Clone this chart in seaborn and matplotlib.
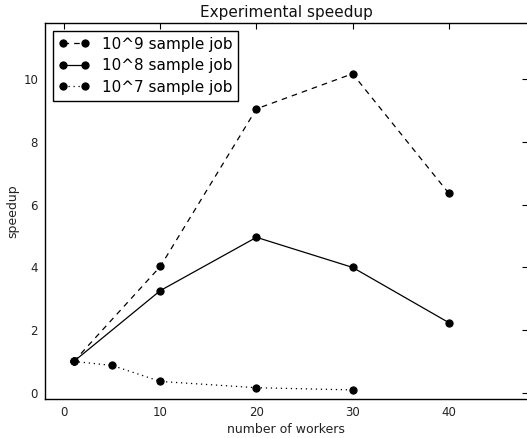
import matplotlib
matplotlib.use("Agg")
import matplotlib.pyplot as plt
import seaborn as sb
import pandas as pd

# speedup readings per job size
workers_9 = [1, 10, 20, 30, 40]
speedup_9 = [1.0, 4.03, 9.06, 10.18, 6.37]

workers_8 = [1, 10, 20, 30, 40]
speedup_8 = [1.0, 3.26, 4.96, 4.0, 2.24]

workers_7 = [1, 5, 10, 20, 30]
speedup_7 = [1.0, 0.87, 0.36, 0.16, 0.09]

labels = ['10^9 sample job', '10^8 sample job', '10^7 sample job']
styles = [(0, (4.5, 4)), '-', (0, (1, 3))]

sb.set_style("white")
plt.rcParams['font.family'] = ['DejaVu Sans']
plt.rcParams['xtick.direction'] = 'in'
plt.rcParams['ytick.direction'] = 'in'

fig = plt.figure(figsize=(5.27, 4.38), dpi=100)
ax = fig.add_axes([45 / 527, 39 / 438, 482.5 / 527, 376 / 438])

series = [(workers_9, speedup_9), (workers_8, speedup_8), (workers_7, speedup_7)]
for (xs, ys), lab, ls in zip(series, labels, styles):
    df = pd.DataFrame({'workers': xs, 'speedup': ys})
    sb.lineplot(data=df, x='workers', y='speedup', ax=ax, color='black',
                marker='o', markersize=5.2, markeredgecolor='black',
                linestyle=ls, linewidth=0.9, label=lab)

ax.set_xlim(-2, 48.2)
ax.set_ylim(-0.2, 11.8)
ax.set_xticks([0, 10, 20, 30, 40])
ax.set_yticks([0, 2, 4, 6, 8, 10])
ax.tick_params(axis='both', which='both', top=True, right=True, length=4,
               width=0.8, labelsize=8.5, colors='black', labelcolor='#222222', pad=5)
for sp in ax.spines.values():
    sp.set_color('black')
    sp.set_linewidth(1)

ax.set_xlabel('number of workers', fontsize=9, color='#222222', labelpad=3)
ax.set_ylabel('speedup', fontsize=9, color='#222222', labelpad=3)
ax.set_title('Experimental speedup', fontsize=11, color='#111111', pad=4)

leg = ax.legend(loc='upper left', numpoints=2, fontsize=11, fancybox=False,
                frameon=True, borderaxespad=0.5, handlelength=2.0,
                labelspacing=0.42, borderpad=0.4, handletextpad=0.8)
leg.get_frame().set_edgecolor('black')
leg.get_frame().set_linewidth(1)
leg.get_frame().set_alpha(1)
for t in leg.get_texts():
    t.set_color('black')

plt.savefig('out.png', dpi=100)
